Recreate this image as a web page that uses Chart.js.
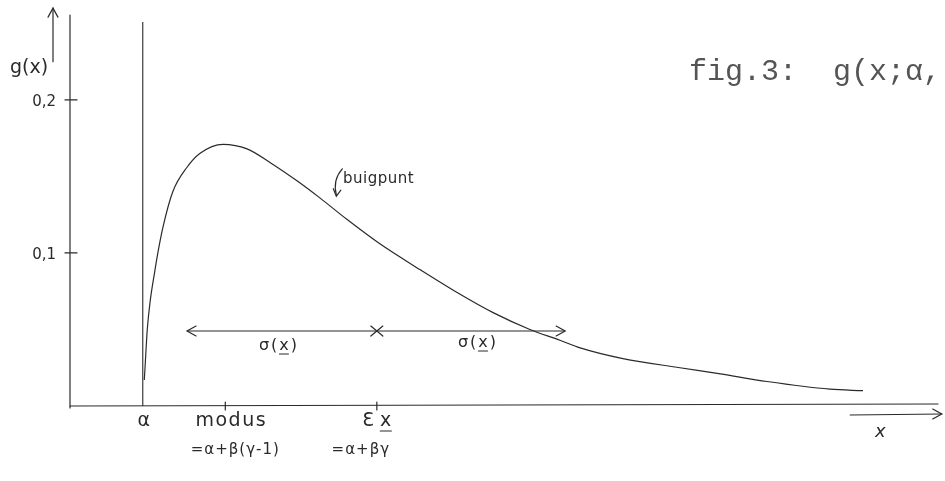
<!DOCTYPE html>
<html><head><meta charset="utf-8">
<script src="https://cdn.jsdelivr.net/npm/chart.js@4"></script>
<style>html,body{margin:0;padding:0;background:#fff}#wrap{width:945px;height:481px;position:relative}</style>
</head><body><div id="wrap"><canvas id="c" width="945" height="481"></canvas></div>
<script>
// ---- data ----
const curveX = [0.99,1.00,1.03,1.07,1.13,1.16,1.24,1.37,1.56,1.73,2.04,2.36,2.67,3.03,3.33,3.69,4.13,4.67,5.20,5.64,6.13,6.53,6.80,7.37,8.13,8.67,9.29,10.13,10.57];
const curveY = [0.017,0.025,0.050,0.069,0.088,0.097,0.117,0.140,0.156,0.165,0.171,0.168,0.159,0.147,0.136,0.122,0.106,0.089,0.073,0.061,0.050,0.043,0.038,0.031,0.025,0.021,0.016,0.011,0.010];
const yTickValues = [0.1, 0.2];
const yTickLabels = ['0,1', '0,2'];
const xMarkValues = [0.97, 2.07, 4.09];          // α, modus, E x
const xMarkLabels = ['α', 'modus', 'Ɛ x'];
const xMarkFormulas = ['', '=α+β(γ-1)', '=α+βγ'];
const sigmaLevel = 0.049;
const sigmaLeft = [1.56, 4.09];
const sigmaRight = [4.09, 6.60];
const sigmaLabel = 'σ(x)';
const inflectionLabel = 'buigpunt';
const yAxisLabel = 'g(x)';
const xAxisLabel = 'x';
const titleText = 'fig.3:  g(x;α,';

const INK = '#2a2a2a';
const HAND = '"DejaVu Sans", sans-serif';

function arrowHead(ctx, x, y, dir, size) {
  ctx.beginPath();
  ctx.moveTo(x - dir * size, y - size * 0.55);
  ctx.lineTo(x, y);
  ctx.lineTo(x - dir * size, y + size * 0.55);
  ctx.stroke();
}
function underline(ctx, cx, cy, w) {
  ctx.beginPath(); ctx.moveTo(cx - w/2, cy); ctx.lineTo(cx + w/2, cy); ctx.stroke();
}

const decor = {
  id: 'decor',
  afterDatasetsDraw(chart) {
    const ctx = chart.ctx, xs = chart.scales.x, ys = chart.scales.y;
    const px = v => xs.getPixelForValue(v), py = v => ys.getPixelForValue(v);
    const x0 = px(0), y0 = py(0);
    ctx.save();
    ctx.strokeStyle = INK; ctx.fillStyle = INK; ctx.lineWidth = 1.2; ctx.lineCap = 'round';
    // axes
    ctx.beginPath(); ctx.moveTo(x0, y0 + 2); ctx.lineTo(x0, chart.chartArea.top); ctx.stroke();
    ctx.beginPath(); ctx.moveTo(x0, y0); ctx.lineTo(px(xs.max), y0 - 2); ctx.stroke();
    // y ticks
    ctx.font = '15px ' + HAND; ctx.textAlign = 'right'; ctx.textBaseline = 'middle';
    yTickValues.forEach((v, i) => {
      const y = py(v);
      ctx.beginPath(); ctx.moveTo(x0 - 5, y); ctx.lineTo(x0 + 7, y); ctx.stroke();
      ctx.fillText(yTickLabels[i], x0 - 14, y + 2);
    });
    // x marks
    ctx.textAlign = 'center';
    xMarkValues.forEach((v, i) => {
      const x = px(v);
      if (i > 0) { ctx.beginPath(); ctx.moveTo(x, y0 - 4); ctx.lineTo(x, y0 + 4); ctx.stroke(); }
    });
    ctx.font = '19px ' + HAND;
    ctx.fillText(xMarkLabels[0], px(xMarkValues[0]) + 1, y0 + 15);
    ctx.letterSpacing = '1.5px';
    ctx.fillText(xMarkLabels[1], px(xMarkValues[1]) + 6, y0 + 15);
    ctx.letterSpacing = '0px';
    ctx.fillText(xMarkLabels[2], px(xMarkValues[2]), y0 + 15);
    underline(ctx, px(xMarkValues[2]) + 9, y0 + 25, 11);
    ctx.font = '15px ' + HAND; ctx.letterSpacing = '1px';
    ctx.fillText(xMarkFormulas[1], px(xMarkValues[1]) + 10, y0 + 44);
    ctx.fillText(xMarkFormulas[2], px(xMarkValues[2]) - 16, y0 + 44);
    ctx.letterSpacing = '0px';
    // sigma arrows
    const sy = py(sigmaLevel);
    arrowHead(ctx, px(sigmaLeft[0]), sy, -1, 9);
    arrowHead(ctx, px(sigmaRight[1]), sy, 1, 9);
    const mx = px(sigmaLeft[1]);
    ctx.beginPath(); ctx.moveTo(mx - 6, sy - 5); ctx.lineTo(mx + 6, sy + 5);
    ctx.moveTo(mx - 6, sy + 5); ctx.lineTo(mx + 6, sy - 5); ctx.stroke();
    ctx.font = '16px ' + HAND; ctx.letterSpacing = '2px';
    const lx = (px(sigmaLeft[0]) + px(sigmaLeft[1])) / 2 - 3;
    const rx = (px(sigmaRight[0]) + px(sigmaRight[1])) / 2 + 7;
    ctx.fillText(sigmaLabel, lx, sy + 15);
    ctx.fillText(sigmaLabel, rx, sy + 12);
    ctx.letterSpacing = '0px';
    underline(ctx, lx + 5, sy + 23, 9);
    underline(ctx, rx + 5, sy + 20, 9);
    // inflection point label
    ctx.textAlign = 'left'; ctx.font = '15px ' + HAND; ctx.letterSpacing = '0.5px';
    ctx.fillText(inflectionLabel, px(3.64), py(0.148));
    ctx.letterSpacing = '0px';
    ctx.beginPath();
    ctx.moveTo(px(3.63), py(0.155));
    ctx.quadraticCurveTo(px(3.50), py(0.148), px(3.55), py(0.138));
    ctx.stroke();
    ctx.beginPath();
    ctx.moveTo(px(3.51), py(0.142)); ctx.lineTo(px(3.55), py(0.137)); ctx.lineTo(px(3.61), py(0.141));
    ctx.stroke();
    // y axis label + arrow
    ctx.textAlign = 'center'; ctx.font = '19px ' + HAND;
    ctx.fillText(yAxisLabel, x0 - 41, py(0.221));
    const ax = x0 - 17;
    ctx.beginPath(); ctx.moveTo(ax, py(0.225)); ctx.lineTo(ax, py(0.260)); ctx.stroke();
    ctx.save(); ctx.translate(ax, py(0.260)); ctx.rotate(-Math.PI/2); arrowHead(ctx, 0, 0, 1, 9); ctx.restore();
    // x axis arrow + label
    const xay = y0 + 9;
    ctx.beginPath(); ctx.moveTo(px(10.40), xay); ctx.lineTo(px(11.62), xay - 1); ctx.stroke();
    arrowHead(ctx, px(11.62), xay - 1, 1, 9);
    ctx.font = 'italic 18px ' + HAND;
    ctx.fillText(xAxisLabel, px(10.80), y0 + 26);
    // title (typewriter)
    ctx.textAlign = 'left'; ctx.fillStyle = '#555';
    ctx.font = '30px "Liberation Mono", "DejaVu Sans Mono", monospace';
    ctx.fillText(titleText, 689, 72);
    ctx.restore();
  }
};

new Chart(document.getElementById('c'), {
  type: 'scatter',
  data: {
    datasets: [
      { data: curveX.map((x, i) => ({ x, y: curveY[i] })), showLine: true, borderColor: INK,
        borderWidth: 1.2, pointRadius: 0, cubicInterpolationMode: 'monotone', fill: false },
      { data: [{ x: xMarkValues[0], y: 0 }, { x: xMarkValues[0], y: 0.251 }], showLine: true,
        borderColor: INK, borderWidth: 1.1, pointRadius: 0 },
      { data: sigmaLeft.map(x => ({ x, y: sigmaLevel })), showLine: true, borderColor: INK, borderWidth: 1.1, pointRadius: 0 },
      { data: sigmaRight.map(x => ({ x, y: sigmaLevel })), showLine: true, borderColor: INK, borderWidth: 1.1, pointRadius: 0 }
    ]
  },
  options: {
    responsive: false, animation: false, devicePixelRatio: 1,
    layout: { padding: { left: 70, right: 7, top: 15, bottom: 75 } },
    plugins: { legend: { display: false }, tooltip: { enabled: false } },
    scales: {
      x: { type: 'linear', min: 0, max: 11.57, display: false },
      y: { type: 'linear', min: 0, max: 0.2555, display: false }
    }
  },
  plugins: [decor]
});
</script></body></html>
